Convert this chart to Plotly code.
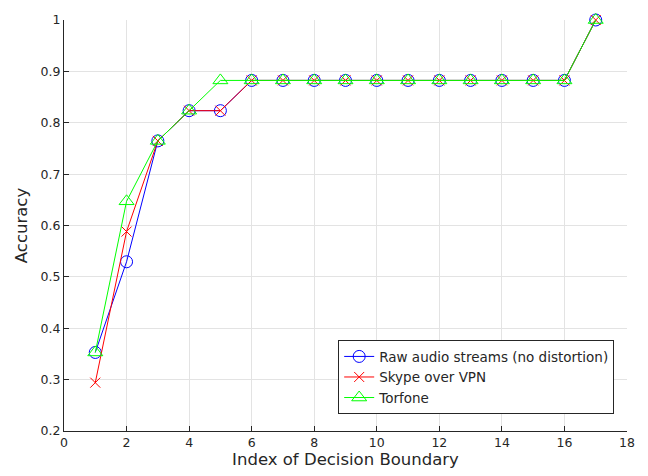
import plotly.graph_objects as go

# Accuracy per decision boundary index for each channel condition
boundary_index = list(range(1, 18))
raw_audio = [0.3529, 0.5294, 0.7647, 0.8235, 0.8235, 0.8824, 0.8824, 0.8824, 0.8824,
             0.8824, 0.8824, 0.8824, 0.8824, 0.8824, 0.8824, 0.8824, 1.0]
skype_vpn = [0.2941, 0.5882, 0.7647, 0.8235, 0.8235, 0.8824, 0.8824, 0.8824, 0.8824,
             0.8824, 0.8824, 0.8824, 0.8824, 0.8824, 0.8824, 0.8824, 1.0]
torfone = [0.3529, 0.6471, 0.7647, 0.8235, 0.8824, 0.8824, 0.8824, 0.8824, 0.8824,
           0.8824, 0.8824, 0.8824, 0.8824, 0.8824, 0.8824, 0.8824, 1.0]

x_ticks = list(range(0, 19, 2))
y_ticks = [0.2, 0.3, 0.4, 0.5, 0.6, 0.7, 0.8, 0.9, 1.0]
y_tick_text = ["0.2", "0.3", "0.4", "0.5", "0.6", "0.7", "0.8", "0.9", "1"]

fig = go.Figure()
fig.add_trace(go.Scatter(
    x=boundary_index, y=raw_audio, mode="lines+markers",
    name="Raw audio streams (no distortion)", cliponaxis=False,
    line=dict(color="#0000ff", width=1),
    marker=dict(symbol="circle-open", size=12, color="#0000ff", line=dict(width=1)),
))
fig.add_trace(go.Scatter(
    x=boundary_index, y=skype_vpn, mode="lines+markers",
    name="Skype over VPN", cliponaxis=False,
    line=dict(color="#ff0000", width=1),
    marker=dict(symbol="x-thin-open", size=10, color="#ff0000", line=dict(width=1, color="#ff0000")),
))
fig.add_trace(go.Scatter(
    x=boundary_index, y=torfone, mode="lines+markers",
    name="Torfone", cliponaxis=False,
    line=dict(color="#00ff00", width=1),
    marker=dict(symbol="triangle-up-open", size=13, color="#00ff00", line=dict(width=1)),
))

axis_font = dict(family="DejaVu Sans", size=12.5, color="#262626")
title_font = dict(family="DejaVu Sans", size=16.5, color="#262626")
fig.update_layout(
    width=648, height=476,
    margin=dict(l=64, r=21, t=17, b=45),
    paper_bgcolor="white", plot_bgcolor="white",
    font=dict(family="DejaVu Sans", size=12, color="#262626"),
    xaxis=dict(
        range=[0, 18], tickvals=x_ticks, ticks="inside", ticklen=5,
        tickcolor="#262626", showline=True, linecolor="#262626", linewidth=1,
        showgrid=True, gridcolor="#e3e3e3", gridwidth=1, zeroline=False,
        tickfont=axis_font,
        title=dict(text="Index of Decision Boundary", font=title_font, standoff=2),
    ),
    yaxis=dict(
        range=[0.2, 1.0], tickvals=y_ticks, ticktext=y_tick_text, ticks="inside", ticklen=5,
        tickcolor="#262626", showline=True, linecolor="#262626", linewidth=1,
        showgrid=True, gridcolor="#e3e3e3", gridwidth=1, zeroline=False,
        tickfont=axis_font,
        title=dict(text="Accuracy", font=title_font, standoff=8),
    ),
    legend=dict(
        x=0.487, y=0.041, xanchor="left", yanchor="bottom",
        bgcolor="white", bordercolor="#262626", borderwidth=1,
        font=dict(family="DejaVu Sans", size=13.5, color="#262626"),
        tracegroupgap=0, itemwidth=30,
    ),
)

fig.write_html("out.html")
